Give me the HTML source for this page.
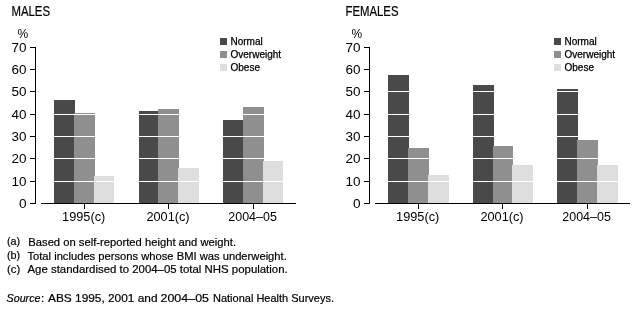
<!DOCTYPE html>
<html><head><meta charset="utf-8"><style>
html,body{margin:0;padding:0;background:#fff;}
svg{display:block;will-change:transform;}
text{font-family:"Liberation Sans", sans-serif;fill:#000;stroke:#000;stroke-width:0.2px;}
text.a{stroke-width:0.0px;}
text.l{stroke-width:0.25px;}
text.t{stroke-width:0.2px;}
</style></head><body>
<svg width="641" height="309" viewBox="0 0 641 309" shape-rendering="crispEdges">
<rect width="641" height="309" fill="#fff"/>
<clipPath id="c0"><rect x="54" y="100" width="21" height="103"/><rect x="74" y="113" width="21" height="90"/><rect x="94" y="176" width="20" height="27"/><rect x="139" y="111" width="20" height="92"/><rect x="158" y="109" width="21" height="94"/><rect x="178" y="168" width="21" height="35"/><rect x="223" y="120" width="21" height="83"/><rect x="243" y="107" width="21" height="96"/><rect x="263" y="161" width="20" height="42"/></clipPath>
<text class="t" x="11.5" y="16" font-size="14" textLength="38.5" lengthAdjust="spacingAndGlyphs">MALES</text>
<text class="a" x="17.5" y="38" font-size="12">%</text>
<text class="a" x="26.5" y="207.5" font-size="12.5" text-anchor="end" textLength="7.6" lengthAdjust="spacingAndGlyphs">0</text>
<rect x="30" y="203" width="6" height="1" fill="#000"/>
<text class="a" x="26.5" y="185.5" font-size="12.5" text-anchor="end" textLength="15.0" lengthAdjust="spacingAndGlyphs">10</text>
<rect x="30" y="181" width="6" height="1" fill="#000"/>
<text class="a" x="26.5" y="162.5" font-size="12.5" text-anchor="end" textLength="15.0" lengthAdjust="spacingAndGlyphs">20</text>
<rect x="30" y="158" width="6" height="1" fill="#000"/>
<text class="a" x="26.5" y="140.5" font-size="12.5" text-anchor="end" textLength="15.0" lengthAdjust="spacingAndGlyphs">30</text>
<rect x="30" y="136" width="6" height="1" fill="#000"/>
<text class="a" x="26.5" y="118.5" font-size="12.5" text-anchor="end" textLength="15.0" lengthAdjust="spacingAndGlyphs">40</text>
<rect x="30" y="114" width="6" height="1" fill="#000"/>
<text class="a" x="26.5" y="95.5" font-size="12.5" text-anchor="end" textLength="15.0" lengthAdjust="spacingAndGlyphs">50</text>
<rect x="30" y="91" width="6" height="1" fill="#000"/>
<text class="a" x="26.5" y="73.5" font-size="12.5" text-anchor="end" textLength="15.0" lengthAdjust="spacingAndGlyphs">60</text>
<rect x="30" y="69" width="6" height="1" fill="#000"/>
<text class="a" x="26.5" y="51.5" font-size="12.5" text-anchor="end" textLength="15.0" lengthAdjust="spacingAndGlyphs">70</text>
<rect x="30" y="47" width="6" height="1" fill="#000"/>
<rect x="35" y="47" width="1" height="157" fill="#000"/>
<rect x="41" y="203" width="255" height="1" fill="#000"/>
<rect x="54" y="100" width="21" height="103" fill="#494949"/>
<rect x="74" y="113" width="21" height="90" fill="#8f8f8f"/>
<rect x="94" y="176" width="20" height="27" fill="#dedede"/>
<rect x="84" y="204" width="1" height="5" fill="#000"/>
<text class="a" x="83.7" y="221" font-size="12" text-anchor="middle" textLength="43.2" lengthAdjust="spacingAndGlyphs">1995(c)</text>
<rect x="139" y="111" width="20" height="92" fill="#494949"/>
<rect x="158" y="109" width="21" height="94" fill="#8f8f8f"/>
<rect x="178" y="168" width="21" height="35" fill="#dedede"/>
<rect x="168" y="204" width="1" height="5" fill="#000"/>
<text class="a" x="168.0" y="221" font-size="12" text-anchor="middle" textLength="43.2" lengthAdjust="spacingAndGlyphs">2001(c)</text>
<rect x="223" y="120" width="21" height="83" fill="#494949"/>
<rect x="243" y="107" width="21" height="96" fill="#8f8f8f"/>
<rect x="263" y="161" width="20" height="42" fill="#dedede"/>
<rect x="253" y="204" width="1" height="5" fill="#000"/>
<text class="a" x="252.6" y="221" font-size="12" text-anchor="middle" textLength="48.6" lengthAdjust="spacingAndGlyphs">2004–05</text>
<rect x="50" y="181" width="240" height="1" fill="#fff" clip-path="url(#c0)"/>
<rect x="50" y="158" width="240" height="1" fill="#fff" clip-path="url(#c0)"/>
<rect x="50" y="136" width="240" height="1" fill="#fff" clip-path="url(#c0)"/>
<rect x="50" y="114" width="240" height="1" fill="#fff" clip-path="url(#c0)"/>
<rect x="50" y="91" width="240" height="1" fill="#fff" clip-path="url(#c0)"/>
<rect x="50" y="69" width="240" height="1" fill="#fff" clip-path="url(#c0)"/>
<rect x="220" y="38" width="7" height="7" fill="#494949"/>
<text class="l" x="230.5" y="45" font-size="10">Normal</text>
<rect x="220" y="51" width="7" height="7" fill="#8f8f8f"/>
<text class="l" x="230.5" y="58" font-size="10">Overweight</text>
<rect x="220" y="64" width="7" height="7" fill="#dedede"/>
<text class="l" x="230.5" y="71" font-size="10">Obese</text>
<clipPath id="c334"><rect x="388" y="75" width="21" height="128"/><rect x="408" y="148" width="21" height="55"/><rect x="428" y="175" width="21" height="28"/><rect x="473" y="85" width="21" height="118"/><rect x="493" y="146" width="20" height="57"/><rect x="512" y="165" width="21" height="38"/><rect x="557" y="89" width="21" height="114"/><rect x="577" y="140" width="21" height="63"/><rect x="597" y="165" width="21" height="38"/></clipPath>
<text class="t" x="345.5" y="16" font-size="14" textLength="53" lengthAdjust="spacingAndGlyphs">FEMALES</text>
<text class="a" x="351.5" y="38" font-size="12">%</text>
<text class="a" x="360.5" y="207.5" font-size="12.5" text-anchor="end" textLength="7.6" lengthAdjust="spacingAndGlyphs">0</text>
<rect x="364" y="203" width="6" height="1" fill="#000"/>
<text class="a" x="360.5" y="185.5" font-size="12.5" text-anchor="end" textLength="15.0" lengthAdjust="spacingAndGlyphs">10</text>
<rect x="364" y="181" width="6" height="1" fill="#000"/>
<text class="a" x="360.5" y="162.5" font-size="12.5" text-anchor="end" textLength="15.0" lengthAdjust="spacingAndGlyphs">20</text>
<rect x="364" y="158" width="6" height="1" fill="#000"/>
<text class="a" x="360.5" y="140.5" font-size="12.5" text-anchor="end" textLength="15.0" lengthAdjust="spacingAndGlyphs">30</text>
<rect x="364" y="136" width="6" height="1" fill="#000"/>
<text class="a" x="360.5" y="118.5" font-size="12.5" text-anchor="end" textLength="15.0" lengthAdjust="spacingAndGlyphs">40</text>
<rect x="364" y="114" width="6" height="1" fill="#000"/>
<text class="a" x="360.5" y="95.5" font-size="12.5" text-anchor="end" textLength="15.0" lengthAdjust="spacingAndGlyphs">50</text>
<rect x="364" y="91" width="6" height="1" fill="#000"/>
<text class="a" x="360.5" y="73.5" font-size="12.5" text-anchor="end" textLength="15.0" lengthAdjust="spacingAndGlyphs">60</text>
<rect x="364" y="69" width="6" height="1" fill="#000"/>
<text class="a" x="360.5" y="51.5" font-size="12.5" text-anchor="end" textLength="15.0" lengthAdjust="spacingAndGlyphs">70</text>
<rect x="364" y="47" width="6" height="1" fill="#000"/>
<rect x="369" y="47" width="1" height="157" fill="#000"/>
<rect x="375" y="203" width="255" height="1" fill="#000"/>
<rect x="388" y="75" width="21" height="128" fill="#494949"/>
<rect x="408" y="148" width="21" height="55" fill="#8f8f8f"/>
<rect x="428" y="175" width="21" height="28" fill="#dedede"/>
<rect x="418" y="204" width="1" height="5" fill="#000"/>
<text class="a" x="417.7" y="221" font-size="12" text-anchor="middle" textLength="43.2" lengthAdjust="spacingAndGlyphs">1995(c)</text>
<rect x="473" y="85" width="21" height="118" fill="#494949"/>
<rect x="493" y="146" width="20" height="57" fill="#8f8f8f"/>
<rect x="512" y="165" width="21" height="38" fill="#dedede"/>
<rect x="502" y="204" width="1" height="5" fill="#000"/>
<text class="a" x="502.0" y="221" font-size="12" text-anchor="middle" textLength="43.2" lengthAdjust="spacingAndGlyphs">2001(c)</text>
<rect x="557" y="89" width="21" height="114" fill="#494949"/>
<rect x="577" y="140" width="21" height="63" fill="#8f8f8f"/>
<rect x="597" y="165" width="21" height="38" fill="#dedede"/>
<rect x="587" y="204" width="1" height="5" fill="#000"/>
<text class="a" x="586.6" y="221" font-size="12" text-anchor="middle" textLength="48.6" lengthAdjust="spacingAndGlyphs">2004–05</text>
<rect x="384" y="181" width="240" height="1" fill="#fff" clip-path="url(#c334)"/>
<rect x="384" y="158" width="240" height="1" fill="#fff" clip-path="url(#c334)"/>
<rect x="384" y="136" width="240" height="1" fill="#fff" clip-path="url(#c334)"/>
<rect x="384" y="114" width="240" height="1" fill="#fff" clip-path="url(#c334)"/>
<rect x="384" y="91" width="240" height="1" fill="#fff" clip-path="url(#c334)"/>
<rect x="384" y="69" width="240" height="1" fill="#fff" clip-path="url(#c334)"/>
<rect x="554" y="38" width="7" height="7" fill="#494949"/>
<text class="l" x="564.5" y="45" font-size="10">Normal</text>
<rect x="554" y="51" width="7" height="7" fill="#8f8f8f"/>
<text class="l" x="564.5" y="58" font-size="10">Overweight</text>
<rect x="554" y="64" width="7" height="7" fill="#dedede"/>
<text class="l" x="564.5" y="71" font-size="10">Obese</text>

<text x="7" y="245.4" font-size="11.5" textLength="13.2" lengthAdjust="spacingAndGlyphs">(a)</text><text x="28.3" y="245.8" font-size="11.5" textLength="207.7" lengthAdjust="spacingAndGlyphs">Based on self-reported height and weight.</text>
<text x="7" y="259.1" font-size="11.5" textLength="13.2" lengthAdjust="spacingAndGlyphs">(b)</text><text x="27.4" y="259.5" font-size="11.5" textLength="259.4" lengthAdjust="spacingAndGlyphs">Total includes persons whose BMI was underweight.</text>
<text x="7" y="272.8" font-size="11.5" textLength="13.2" lengthAdjust="spacingAndGlyphs">(c)</text><text x="27.5" y="273.2" font-size="11.5" textLength="260.2" lengthAdjust="spacingAndGlyphs">Age standardised to 2004–05 total NHS population.</text>
<text x="6.5" y="301.8" font-size="11.5" font-style="italic" textLength="34" lengthAdjust="spacingAndGlyphs">Source</text><text x="41" y="301.8" font-size="11.5">:</text><text x="48" y="301.8" font-size="11.5" textLength="109.5" lengthAdjust="spacingAndGlyphs">ABS 1995, 2001 and</text><text x="160.5" y="301.8" font-size="11.5" textLength="48.5" lengthAdjust="spacingAndGlyphs">2004–05</text><text x="213" y="301.8" font-size="11.5" textLength="121" lengthAdjust="spacingAndGlyphs">National Health Surveys.</text>

</svg>
</body></html>
